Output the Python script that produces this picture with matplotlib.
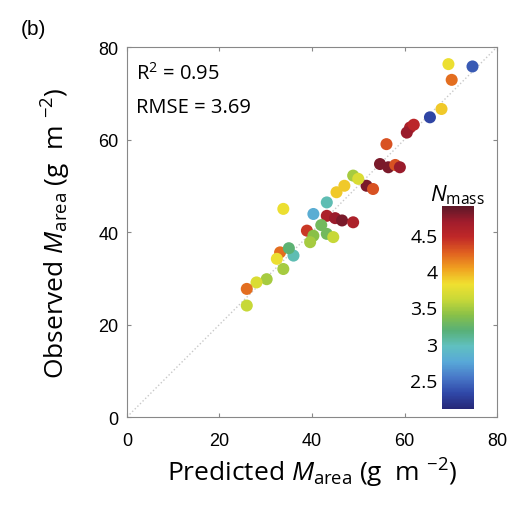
#!/usr/bin/env python3

import matplotlib
matplotlib.use("Agg")
import matplotlib.pyplot as plt
from matplotlib.colors import LinearSegmentedColormap

# predicted vs observed M_area, coloured by N_mass
pred = [69.5, 74.7, 70.2, 68.0, 65.5, 61.2, 60.5, 62.0, 56.1, 54.7, 56.5, 58.0, 59.0,
        48.9, 51.8, 53.2, 45.3, 43.2, 33.8, 40.3, 43.2, 45.0, 46.5, 48.9, 38.9,
        40.3, 43.2, 44.6, 39.6, 33.1, 32.4, 36.0, 33.8, 30.2, 28.0, 25.9, 25.9,
        47.0, 50.0, 42.0, 35.0]
obs = [76.3, 75.8, 72.9, 66.6, 64.8, 62.6, 61.5, 63.2, 59.0, 54.7, 54.0, 54.5, 54.0,
       52.2, 50.0, 49.3, 48.6, 46.4, 45.0, 43.9, 43.5, 43.0, 42.5, 42.1, 40.3,
       39.2, 39.6, 38.9, 37.8, 35.6, 34.2, 34.9, 32.0, 29.8, 29.1, 27.7, 24.1,
       50.0, 51.5, 41.5, 36.5]
nmass = [3.8, 2.4, 4.2, 3.9, 2.3, 4.6, 4.7, 4.5, 4.3, 4.8, 4.8, 4.3, 4.7,
         3.5, 4.8, 4.3, 3.9, 3.0, 3.8, 2.8, 4.6, 4.7, 4.8, 4.6, 4.4,
         3.4, 3.3, 3.6, 3.5, 4.2, 3.8, 3.0, 3.5, 3.5, 3.7, 4.2, 3.6,
         3.9, 3.7, 3.3, 3.2]

r2_text = "R$^2$ = 0.95"
rmse_text = "RMSE = 3.69"

# muted jet-like colours, sampled from the colour bar
cmap = LinearSegmentedColormap.from_list("nmass", [
  "#262878", "#3048a8", "#4878c8", "#58a8d8", "#60c0c0", "#58b078",
  "#88c048", "#c8d838", "#f0e030", "#f0a020", "#e06020", "#c02828",
  "#a01c2c", "#5a1828"])

plt.rcParams['font.family'] = ['Open Sans', 'DejaVu Sans']
plt.rcParams['mathtext.fontset'] = 'custom'
plt.rcParams['mathtext.rm'] = 'Open Sans'
plt.rcParams['mathtext.it'] = 'Open Sans:italic'

fig = plt.figure(figsize=(5.23, 5.06), dpi=100)
ax = fig.add_axes([0.2428, 0.1739, 0.7075, 0.7312])

# 1:1 line
ax.plot([0, 80], [0, 80], ls=':', color='#c8c8c8', lw=1, zorder=1)

sc = ax.scatter(pred, obs, c=nmass, cmap=cmap, vmin=2.1, vmax=4.9, s=75,
                edgecolors='none', zorder=2)

ax.set_xlim(0, 80)
ax.set_ylim(0, 80)
ax.set_xticks([0, 20, 40, 60, 80])
ax.set_yticks([0, 20, 40, 60, 80])
ax.tick_params(direction='in', top=True, right=True, length=3, color='#888888')
ax.tick_params(axis='x', pad=11)
ax.tick_params(axis='y', pad=6)
for lab in ax.get_xticklabels() + ax.get_yticklabels():
  lab.set_fontfamily('Liberation Sans')
  lab.set_fontsize(13)
for s in ax.spines.values():
  s.set_color('#888888')

ax.set_xlabel("Predicted $\\it{M}_{\\rm area}$ (g  m $^{-2}$)", fontsize=19, labelpad=5)
ax.set_ylabel("Observed $\\it{M}_{\\rm area}$ (g  m $^{-2}$)", fontsize=19, labelpad=18)

ax.text(0.025, 0.96, r2_text, transform=ax.transAxes, fontsize=14.5, va='top', ha='left')
ax.text(0.025, 0.865, rmse_text, transform=ax.transAxes, fontsize=14.5, va='top', ha='left')

fig.text(0.04, 0.93, "(b)", fontsize=15, family='Liberation Sans')

cax = fig.add_axes([0.8446, 0.1897, 0.0617, 0.4018])
cb = fig.colorbar(sc, cax=cax)
cb.set_ticks([2.5, 3, 3.5, 4, 4.5])
cb.set_ticklabels(["2.5", "3", "3.5", "4", "4.5"])
cb.ax.yaxis.set_ticks_position('left')
cb.ax.tick_params(labelsize=14, length=0, pad=3)
cb.outline.set_visible(False)
cb.ax.set_title("$\\it{N}_{\\rm mass}$", fontsize=16, pad=4)

plt.savefig("out.png", dpi=100)
